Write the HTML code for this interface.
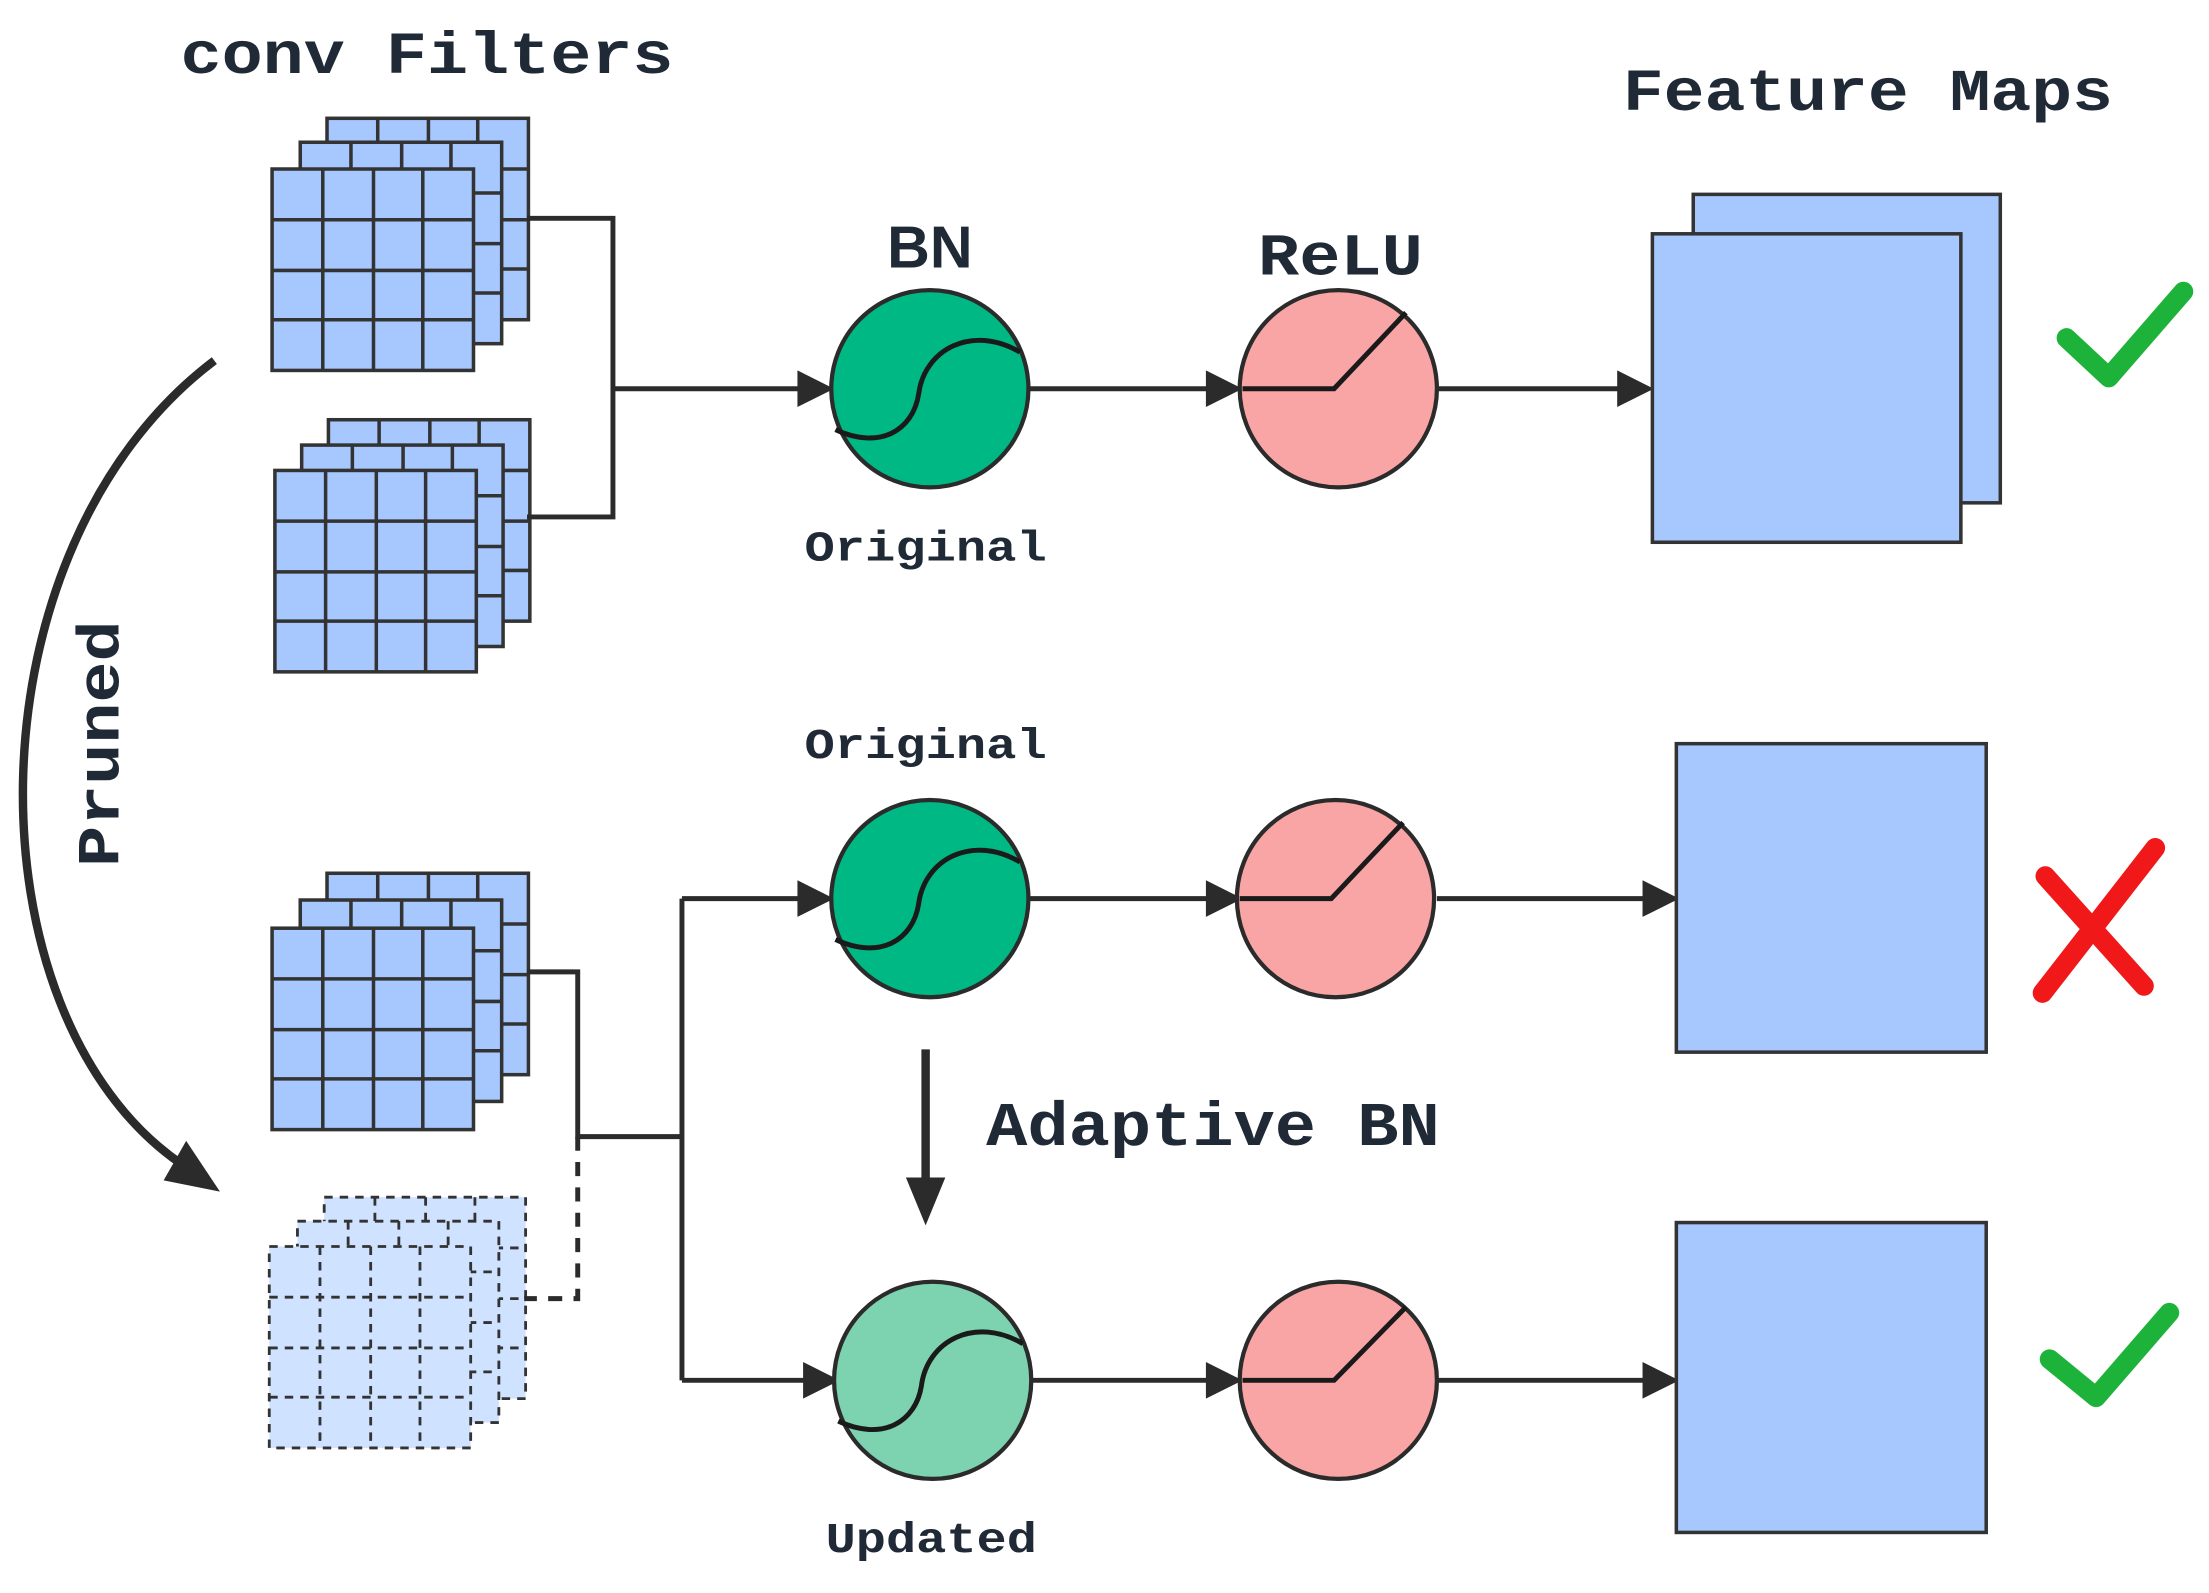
<!DOCTYPE html>
<html><head><meta charset="utf-8"><style>html,body{margin:0;padding:0;background:#fff}svg{display:block}</style></head>
<body>
<svg width="2209" height="1593" viewBox="0 0 1568 1131" xmlns="http://www.w3.org/2000/svg">
<defs>
<g id="grid">
<rect x="0" y="0" width="143" height="143" fill="#a6c8ff" stroke="#333" stroke-width="2.5"/>
<path d="M36 0V143M72 0V143M107 0V143M0 36H143M0 72H143M0 107H143" stroke="#333" stroke-width="2.5"/>
</g>
<g id="dgrid">
<rect x="0" y="0" width="143" height="143" fill="#cfe2ff" stroke="#333" stroke-width="2" stroke-dasharray="6 5"/>
<path d="M36 0V143M72 0V143M107 0V143M0 36H143M0 72H143M0 107H143" stroke="#333" stroke-width="2" stroke-dasharray="6 5"/>
</g>
</defs>

<g font-family="Liberation Mono, monospace" font-weight="bold" fill="#1f2a36">
<text x="128" y="52" font-size="42" textLength="350" lengthAdjust="spacingAndGlyphs">conv Filters</text>
<text x="1152" y="78" font-size="42" textLength="348" lengthAdjust="spacingAndGlyphs">Feature Maps</text>
<text x="893" y="195" font-size="42" textLength="117" lengthAdjust="spacingAndGlyphs">ReLU</text>
<text x="700" y="813" font-size="44" textLength="322" lengthAdjust="spacingAndGlyphs">Adaptive BN</text>
<text x="571" y="398" font-size="30" textLength="172" lengthAdjust="spacingAndGlyphs">Original</text>
<text x="571" y="538" font-size="30" textLength="172" lengthAdjust="spacingAndGlyphs">Original</text>
<text x="586" y="1102" font-size="30" textLength="150" lengthAdjust="spacingAndGlyphs">Updated</text>
<text transform="translate(84,528) rotate(-90)" font-size="42" text-anchor="middle" textLength="175" lengthAdjust="spacingAndGlyphs">Pruned</text>
</g>
<text x="660" y="190" font-family="Liberation Sans, sans-serif" font-size="42" font-weight="bold" fill="#1f2a36" text-anchor="middle">BN</text>

<use href="#grid" x="232" y="84"/><use href="#grid" x="213" y="101"/><use href="#grid" x="193" y="120"/>
<use href="#grid" x="233" y="298"/><use href="#grid" x="214" y="316"/><use href="#grid" x="195" y="334"/>
<use href="#grid" x="232" y="620"/><use href="#grid" x="213" y="639"/><use href="#grid" x="193" y="659"/>
<use href="#dgrid" x="230" y="850"/><use href="#dgrid" x="211" y="867"/><use href="#dgrid" x="191" y="885"/>

<g stroke="#2b2b2b" stroke-width="3.5" fill="none">
<path d="M374 155H435V367H374M435 276H572"/>
<path d="M374 690H410V807H484M484 638V980M484 638H572M484 980H576"/>
<path d="M410 807V922H372" stroke-dasharray="10 8"/>
<path d="M730 276H862M1020 276H1155"/>
<path d="M730 638H862M1020 638H1173"/>
<path d="M732 980H862M1020 980H1173"/>
<path d="M657 745V840" stroke-width="6"/>
<path d="M152 256C-25 390 -25 720 128 826" stroke-width="6"/>
</g>
<g fill="#2b2b2b">
<path d="M566 263L592 276L566 289Z"/><path d="M566 625L592 638L566 651Z"/><path d="M570 967L596 980L570 993Z"/>
<path d="M856 263L882 276L856 289Z"/><path d="M856 625L882 638L856 651Z"/><path d="M856 967L882 980L856 993Z"/>
<path d="M1148 263L1174 276L1148 289Z"/><path d="M1166 625L1192 638L1166 651Z"/><path d="M1166 967L1192 980L1166 993Z"/>
<path d="M643 836L671 836L657 870Z"/>
<path d="M132 810L156 846L116 838Z"/>
</g>

<g stroke="#2b2b2b" stroke-width="3">
<circle cx="660" cy="276" r="70" fill="#00b884"/>
<circle cx="660" cy="638" r="70" fill="#00b884"/>
<circle cx="662" cy="980" r="70" fill="#7dd3b0"/>
<circle cx="950" cy="276" r="70" fill="#f9a5a5"/>
<circle cx="948" cy="638" r="70" fill="#f9a5a5"/>
<circle cx="950" cy="980" r="70" fill="#f9a5a5"/>
</g>
<g stroke="#1a1a1a" stroke-width="3.5" fill="none">
<path d="M593 305C625 320 648 305 652 280C656 248 690 230 724 250"/>
<path d="M593 667C625 682 648 667 652 642C656 610 690 592 724 612"/>
<path d="M595 1009C627 1024 650 1009 654 984C658 952 692 934 726 954"/>
<path d="M882 276H947L998 222"/>
<path d="M880 638H945L996 584"/>
<path d="M882 980H947L998 928"/>
</g>

<g fill="#a6c8ff" stroke="#333" stroke-width="2.5">
<rect x="1202" y="138" width="218" height="219"/>
<rect x="1173" y="166" width="219" height="219"/>
<rect x="1190" y="528" width="220" height="219"/>
<rect x="1190" y="868" width="220" height="220"/>
</g>

<g fill="none" stroke-linecap="round" stroke-linejoin="round" stroke-width="14">
<path d="M1467 240L1497 268L1550 207" stroke="#1db33a"/>
<path d="M1455 965L1488 992L1540 932" stroke="#1db33a"/>
<path d="M1452 622L1522 700M1530 602L1450 705" stroke="#f01818"/>
</g>
</svg>
</body></html>
